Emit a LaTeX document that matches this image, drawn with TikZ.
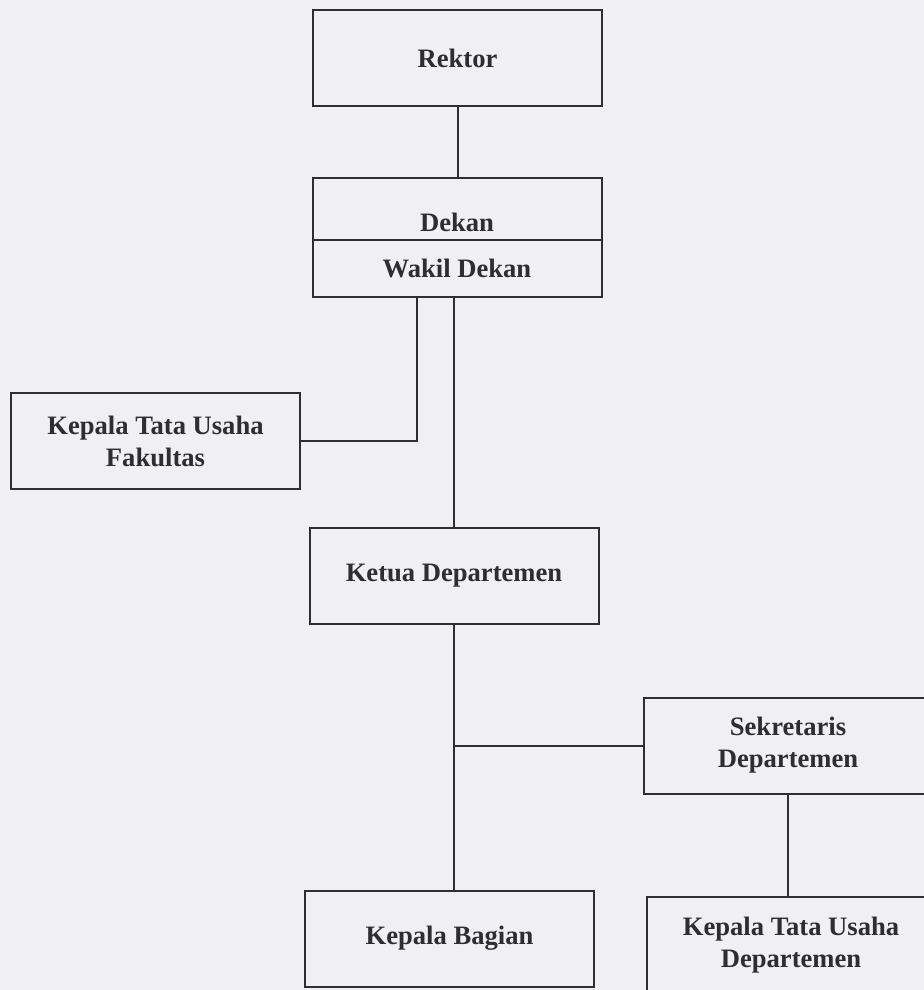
\documentclass[tikz,border=0pt]{standalone}
\usepackage{fontspec}
\setmainfont{Liberation Serif}
\definecolor{kertas}{RGB}{240,240,242}
\definecolor{tinta}{RGB}{45,45,50}

\begin{document}
\begin{tikzpicture}[x=0.5pt, y=-0.5pt,
  kotak/.style={draw=tinta, line width=1pt, outer sep=0pt,
    minimum width=144.5pt, minimum height=48pt, align=center,
    text=tinta, font=\fontsize{13.3}{16}\selectfont\bfseries}]

\fill[kertas] (0,0) rectangle (924,990);
\useasboundingbox (0,0) rectangle (924,990);

\path [every node/.style={kotak}]
  node (rektor) at (457.5,58) {Rektor}
  node[anchor=south, minimum height=31pt, inner ysep=0pt,
       text height=26.5pt, text depth=4.5pt] (dekan) at (457,240) {Dekan}
  node[anchor=north, minimum height=28.5pt] (wakil) at (457,240) {Wakil Dekan}
  node (ktuf) at (155.5,441) {Kepala Tata Usaha\\Fakultas}
  node (ketua) at (454,575.5) {Ketua Departemen}
  node (sekr) at (788,745.5) {Sekretaris\\Departemen}
  node (bagian) at (449.5,938.5) {Kepala Bagian}
  node (ktud) at (791,945) {Kepala Tata Usaha\\Departemen};

\begin{scope}[draw=tinta, line width=1pt]
	% Rektor ke Dekan
	\draw (rektor.south) -- (rektor.south |- dekan.north);
	% Dekan ke bawah
	\draw ([xshift=-20pt]wakil.south) |- (ktuf.east);
	\draw (wakil.south -| ketua.north) -- (ketua.north);
	% Departemen
	\draw (ketua.south) -- (ketua.south |- bagian.north);
	\draw (sekr.west) -- (sekr.west -| ketua.south);
	\draw (sekr.south) -- (sekr.south |- ktud.north);
\end{scope}

\end{tikzpicture}
\end{document}
